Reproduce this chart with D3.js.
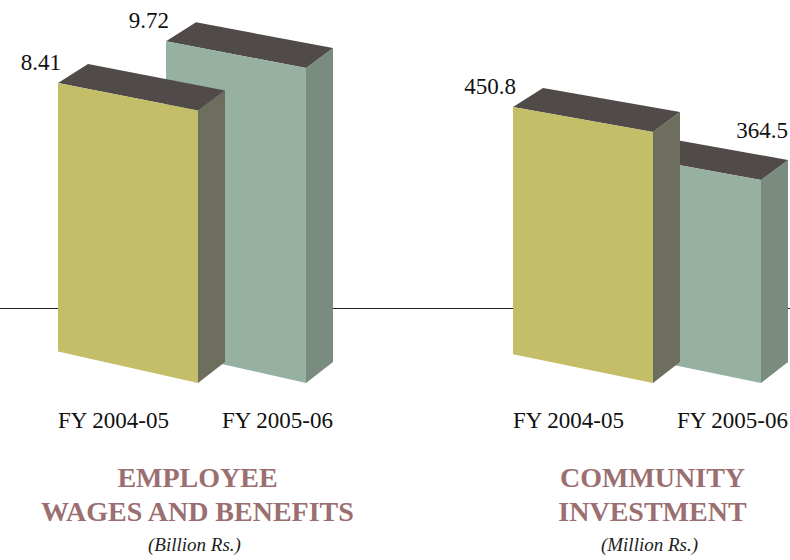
<!DOCTYPE html>
<html>
<head>
<meta charset="utf-8">
<script src="https://cdn.jsdelivr.net/npm/d3@7"></script>
<style>
  html, body { margin: 0; padding: 0; background: #fff; }
  svg { display: block; }
  .value, .category { font-family: "Liberation Serif", "DejaVu Serif", serif; fill: #111; }
  .title { font-family: "Liberation Serif", serif; font-weight: bold; fill: #9b6e70; }
  .unit { font-family: "Liberation Serif", serif; font-style: italic; fill: #222; }
</style>
</head>
<body>
<svg id="chart" width="790" height="560"></svg>
<script>
"use strict";

// data
var categories = ["FY 2004-05", "FY 2005-06"];
var employeeValues = [8.41, 9.72];
var communityValues = [450.8, 364.5];
var groupTitles = [["EMPLOYEE", "WAGES AND BENEFITS"], ["COMMUNITY", "INVESTMENT"]];
var groupUnits = ["(Billion Rs.)", "(Million Rs.)"];

var groups = [
    { values: employeeValues, title: groupTitles[0], unit: groupUnits[0], maxHeight: 315, skew: 0.225 },
    { values: communityValues, title: groupTitles[1], unit: groupUnits[1], maxHeight: 251, skew: 0.205 }
];

var colors = {
    front: ["#c5be69", "#96b0a2"],
    side: ["#6e6e5e", "#7a8b80"],
    top: "#504b48"
};

var W = 140;          // front face width
var floorY = 383;     // front bottom-right corner
var depthL = 30, depthR = 27, depthY = -20;

var svg = d3.select("#chart");

var groupX = d3.scalePoint().domain(d3.range(groups.length)).range([58, 513]);
var barX = d3.scalePoint().domain(categories).range([0, 108]);

// baseline behind everything
svg.append("line")
    .attr("x1", 0).attr("x2", 790)
    .attr("y1", 308.5).attr("y2", 308.5)
    .attr("stroke", "#222")
    .attr("stroke-width", 1.2);

function pts(arr) {
    return arr.map(function(p) { return p[0] + "," + p[1]; }).join(" ");
}

groups.forEach(function(group, gi) {

    var y = d3.scaleLinear()
        .domain([0, d3.max(group.values)])
        .range([0, group.maxHeight]);

    var bars = group.values.map(function(v, i) {
        var x0 = groupX(gi) + barX(categories[i]);
        var h = y(v);
        var br = [x0 + W, floorY];
        var bl = [x0, floorY - W * group.skew];
        var tr = [x0 + W, floorY - h];
        var tl = [x0, bl[1] - h * 0.985];
        return { value: v, index: i, x0: x0, bl: bl, br: br, tl: tl, tr: tr };
    });

    var g = svg.append("g").attr("class", "group");

    // back bars first so the front one covers them
    var barG = g.selectAll("g.bar")
        .data(bars.slice().reverse())
        .join("g")
        .attr("class", "bar");

    barG.append("polygon")
        .attr("points", function(d) {
            return pts([d.tr, [d.tr[0] + depthR, d.tr[1] + depthY], [d.br[0] + depthR, d.br[1] + depthY - 1], d.br]);
        })
        .attr("fill", function(d) { return colors.side[d.index]; });

    barG.append("polygon")
        .attr("points", function(d) {
            return pts([d.tl, [d.tl[0] + depthL, d.tl[1] + depthY + 1], [d.tr[0] + depthR, d.tr[1] + depthY], d.tr]);
        })
        .attr("fill", colors.top);

    barG.append("polygon")
        .attr("points", function(d) { return pts([d.tl, d.tr, d.br, d.bl]); })
        .attr("fill", function(d) { return colors.front[d.index]; });

    // value labels
    g.selectAll("text.value")
        .data(bars)
        .join("text")
        .attr("class", "value")
        .attr("font-size", 23)
        .attr("text-anchor", "end")
        .each(function(d, i) {
            var hidden = i > 0 && bars[i - 1].value > d.value;
            var t = d3.select(this);
            if (hidden) {
                t.attr("x", d.tr[0] + depthR).attr("y", d.tr[1] + depthY - 22);
            } else {
                t.attr("x", d.x0 + 3).attr("y", d.tl[1] - 13);
            }
        })
        .text(function(d) { return String(d.value); });

    // category labels
    g.selectAll("text.category")
        .data(bars)
        .join("text")
        .attr("class", "category")
        .attr("font-size", 23)
        .attr("y", 428)
        .attr("text-anchor", function(d, i) { return i === 0 ? "start" : "end"; })
        .attr("x", function(d, i) { return i === 0 ? d.x0 : d.x0 + W + depthR; })
        .text(function(d, i) { return categories[i]; });

    var cx = (bars[0].x0 + bars[bars.length - 1].x0 + W + depthR) / 2 + 2;

    g.selectAll("text.title")
        .data(group.title)
        .join("text")
        .attr("class", "title")
        .attr("font-size", 28)
        .attr("text-anchor", "middle")
        .attr("x", cx)
        .attr("y", function(d, i) { return 487 + i * 34; })
        .text(function(d) { return d; });

    g.append("text")
        .attr("class", "unit")
        .attr("font-size", 19)
        .attr("text-anchor", "middle")
        .attr("x", cx - 3)
        .attr("y", 551)
        .text(group.unit);
});
</script>
</body>
</html>
